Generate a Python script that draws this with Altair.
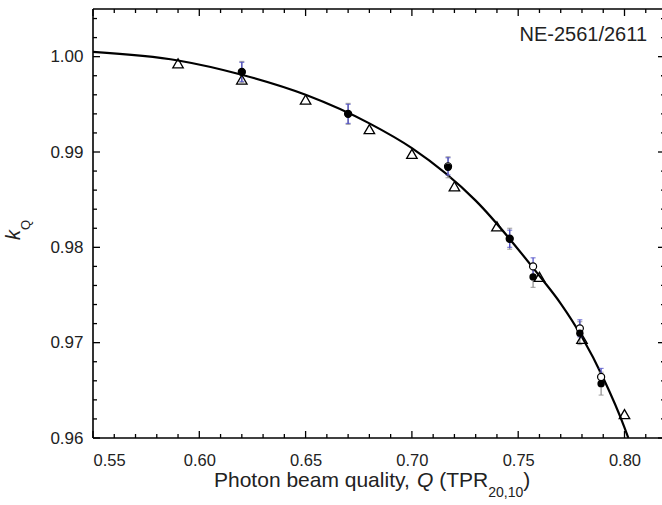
import altair as alt
import pandas as pd

# ---- data ----
q_curve = [0.55, 0.59, 0.62, 0.65, 0.68, 0.70, 0.73, 0.76, 0.77, 0.78, 0.79, 0.80, 0.8018]
k_curve = [1.0005, 0.9996, 0.9981, 0.9960, 0.9930, 0.9904, 0.9849, 0.9770, 0.9741, 0.9706, 0.9663, 0.9611, 0.9600]

q_tri = [0.59, 0.62, 0.65, 0.68, 0.70, 0.72, 0.74, 0.76, 0.78, 0.80]
k_tri = [0.9993, 0.9976, 0.9955, 0.9924, 0.9898, 0.9864, 0.9822, 0.9769, 0.9704, 0.9625]

q_circ = [0.620, 0.670, 0.717, 0.746, 0.757, 0.779, 0.789]
k_open = [0.9984, 0.9940, 0.9885, 0.9809, 0.9780, 0.9715, 0.9664]
err_open = [0.0010, 0.0010, 0.0009, 0.0009, 0.0009, 0.0009, 0.0009]
k_fill = [0.9984, 0.9940, 0.9884, 0.9809, 0.9769, 0.9710, 0.9657]
err_fill = [0.0011, 0.0011, 0.0011, 0.0011, 0.0011, 0.0012, 0.0012]

x_major = [0.55, 0.60, 0.65, 0.70, 0.75, 0.80]
x_minor = [0.56, 0.57, 0.58, 0.59, 0.61, 0.62, 0.63, 0.64, 0.66, 0.67, 0.68, 0.69,
           0.71, 0.72, 0.73, 0.74, 0.76, 0.77, 0.78, 0.79, 0.81]
y_major = [0.96, 0.97, 0.98, 0.99, 1.00]
y_minor = [0.962, 0.964, 0.966, 0.968, 0.972, 0.974, 0.976, 0.978, 0.982, 0.984,
           0.986, 0.988, 0.992, 0.994, 0.996, 0.998, 1.002, 1.004]

annotation = "NE-2561/2611"

# ---- layout ----
W, H = 569, 429
RX = W + 3          # right frame sits just outside the picture
FONT = "Liberation Sans"
XD = [0.55, 0.55 + W / 2126.0]
YD = [0.96, 1.005]

xs = alt.Scale(domain=XD, nice=False, zero=False)
ys = alt.Scale(domain=YD, nice=False, zero=False)

x_axis = alt.Axis(values=x_major, format=".2f", ticks=False, tickSize=0, domain=False, grid=False,
                  labelFont=FONT, labelFontSize=16.5, labelColor="#222", labelPadding=14, title=None)
y_axis = alt.Axis(values=y_major, format=".2f", ticks=False, tickSize=0, domain=False, grid=False,
                  labelFont=FONT, labelFontSize=17, labelColor="#222", labelPadding=10, title=None)

curve_df = pd.DataFrame({"q": q_curve, "k": k_curve})
tri_df = pd.DataFrame({"q": q_tri, "k": k_tri})
open_df = pd.DataFrame({"q": q_circ, "k": k_open, "lo": [a - b for a, b in zip(k_open, err_open)],
                        "hi": [a + b for a, b in zip(k_open, err_open)]})
fill_df = pd.DataFrame({"q": q_circ, "k": k_fill, "lo": [a - b for a, b in zip(k_fill, err_fill)],
                        "hi": [a + b for a, b in zip(k_fill, err_fill)]})


def X():
    return alt.X("q:Q", scale=xs, axis=x_axis)


def Y(f="k"):
    return alt.Y(f"{f}:Q", scale=ys, axis=y_axis)


def xticks(vals, length):
    d = pd.DataFrame({"q": vals})
    bot = alt.Chart(d).mark_rule(color="black", strokeWidth=1.3).encode(
        x=X(), y=alt.value(H), y2=alt.value(H - length))
    top = alt.Chart(d).mark_rule(color="black", strokeWidth=1.3).encode(
        x=X(), y=alt.value(0), y2=alt.value(length))
    return bot + top


def yticks(vals, length):
    d = pd.DataFrame({"k": vals})
    left = alt.Chart(d).mark_rule(color="black", strokeWidth=1.3).encode(
        y=Y(), x=alt.value(0), x2=alt.value(length))
    right = alt.Chart(d).mark_rule(color="black", strokeWidth=1.3).encode(
        y=Y(), x=alt.value(RX), x2=alt.value(RX - length))
    return left + right


one = pd.DataFrame({"a": [0]})
frame = (
    alt.Chart(one).mark_rule(color="black", strokeWidth=1.6).encode(
        x=alt.value(0), x2=alt.value(RX), y=alt.value(H))
    + alt.Chart(one).mark_rule(color="black", strokeWidth=1.6).encode(
        x=alt.value(0), x2=alt.value(RX), y=alt.value(0))
    + alt.Chart(one).mark_rule(color="black", strokeWidth=1.6).encode(
        x=alt.value(0), y=alt.value(0), y2=alt.value(H))
)

curve = alt.Chart(curve_df).mark_line(color="black", strokeWidth=2.2, interpolate="monotone",
                                      clip=True).encode(x=X(), y=Y())

fill_err = alt.Chart(fill_df).mark_rule(color="#8c8c8c", strokeWidth=1.2).encode(
    x=X(), y=Y("lo"), y2="hi:Q")
fill_cap_lo = alt.Chart(fill_df).mark_tick(orient="horizontal", size=5, thickness=1.2,
                                            color="#8c8c8c").encode(x=X(), y=Y("lo"))
fill_cap_hi = alt.Chart(fill_df).mark_tick(orient="horizontal", size=5, thickness=1.2,
                                            color="#8c8c8c").encode(x=X(), y=Y("hi"))
open_err = alt.Chart(open_df).mark_rule(color="#4a4ac8", strokeWidth=1.2).encode(
    x=X(), y=Y("lo"), y2="hi:Q")
open_cap_lo = alt.Chart(open_df).mark_tick(orient="horizontal", size=5, thickness=1.2,
                                            color="#4a4ac8").encode(x=X(), y=Y("lo"))
open_cap_hi = alt.Chart(open_df).mark_tick(orient="horizontal", size=5, thickness=1.2,
                                            color="#4a4ac8").encode(x=X(), y=Y("hi"))

open_pts = alt.Chart(open_df).mark_point(shape="circle", filled=True, fill="white", stroke="black",
                                         strokeWidth=1.2, size=50, opacity=1).encode(x=X(), y=Y())
fill_pts = alt.Chart(fill_df).mark_point(shape="circle", filled=True, color="black", size=55,
                                         opacity=1).encode(x=X(), y=Y())
tri_pts = alt.Chart(tri_df).mark_point(shape="triangle-up", filled=False, color="black",
                                       strokeWidth=1.3, size=110, opacity=1).encode(x=X(), y=Y())


def label(text, x, y, size, style="normal", angle=0, align="left"):
    return alt.Chart(pd.DataFrame({"t": [text]})).mark_text(
        font=FONT, fontSize=size, fontStyle=style, angle=angle, align=align,
        baseline="alphabetic", color="#222").encode(
        text="t:N", x=alt.value(x), y=alt.value(y))


# x title pieces (Arial metrics)
fs, fsub = 21, 14
x0 = 121
w1 = 9.672 * fs          # "Photon beam quality, "
wq = 0.778 * fs          # "Q"
wsp = 0.278 * fs         # space
w2 = 2.333 * fs          # "(TPR"
w3 = 2.502 * fsub        # "20,10"
ty = 478
xq = x0 + w1
xt = xq + wq + wsp
xs_ = xt + w2
xc = xs_ + w3
xtitle = (label("Photon beam quality,", x0, ty, fs)
          + label("Q", xq, ty, fs, "italic")
          + label("(TPR", xt, ty, fs)
          + label("20,10", xs_, ty + 10, fsub)
          + label(")", xc, ty, fs))

ytitle = (label("k", -73, 226, 20, "italic", angle=270, align="center")
          + label("Q", -63, 216, 13, angle=270, align="center"))

annot = label(annotation, 554, 32, 20, align="right")

chart = alt.layer(
    curve,
    xticks(x_major, 7), xticks(x_minor, 4), yticks(y_major, 7), yticks(y_minor, 4),
    frame,
    fill_err, fill_cap_lo, fill_cap_hi,
    open_err, open_cap_lo, open_cap_hi,
    open_pts, fill_pts, tri_pts,
    xtitle, ytitle, annot,
).properties(
    width=W, height=H,
    padding={"left": 93, "top": 9, "right": 0, "bottom": 67},
    autosize=alt.AutoSizeParams(type="none"),
    background="white",
).configure_view(strokeWidth=0)

chart.save("out.html", embed_options={"renderer": "svg", "actions": False})
